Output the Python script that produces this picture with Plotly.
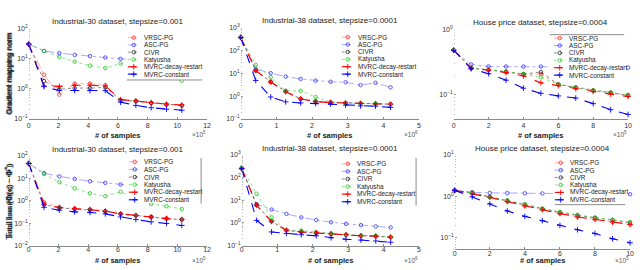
import math
import plotly.graph_objects as go

W, H = 640, 270
SANS = 'Liberation Sans, Arial, sans-serif'
SERIF = 'Liberation Serif, Times New Roman, serif'

# ---------------- data ----------------
series_names = ['VRSC-PG', 'ASC-PG', 'CIVR', 'Katyusha', 'MVRC-decay-restart', 'MVRC-constant']

x_ind30 = [0, 1.03, 2.06, 3.09, 4.12, 5.15, 6.18, 7.21, 8.24, 9.27, 10.3]     # x 1e5
x_ind38 = [0, 0.42, 0.84, 1.26, 1.68, 2.1, 2.52, 2.94, 3.36, 3.78, 4.2]       # x 1e6
x_house = [0, 1, 2, 3, 4, 5, 6, 7, 8, 9, 10]                                  # x 1e5

# gradient mapping norm, Industrial-30
gm30_vrsc = [30, 2.9, 0.64, 1.48, 1.48, 1.3, 0.42, 0.39, 0.34, 0.30, 0.28]
gm30_asc = [30, 17.8, 15, 13.2, 12, 10.8, 9.8, 9.0, 8.3, 7.7, 7.1]
gm30_civr = [30, 1.8, 0.97, 1.05, 1.05, 1.1, 0.42, 0.39, 0.34, 0.30, 0.28]
gm30_katy = [30, 17.8, 11.4, 7.9, 5.85, 4.8, 6.9, 5.0, 3.6, 2.6, 1.84]
gm30_mdr = [30, 1.25, 1.2, 1.3, 1.3, 1.25, 0.44, 0.40, 0.35, 0.31, 0.29]
gm30_mc = [30, 1.17, 0.87, 0.87, 0.87, 0.87, 0.36, 0.28, 0.235, 0.21, 0.195]

# gradient mapping norm, Industrial-38
gm38_vrsc = [363, 13, 4.2, 1.6, 0.75, 0.58, 0.53, 0.50, 0.48, 0.46, 0.44]
gm38_asc = [363, 15, 10, 7.1, 5.6, 4.7, 4.2, 4.0, 3.0, 3.8, 2.4]
gm38_civr = [363, 13, 4.2, 1.6, 0.75, 0.58, 0.53, 0.50, 0.48, 0.46, 0.44]
gm38_katy = [363, 23, 6.6, 1.7, 1.7, 0.91, 0.54, 0.50, 0.48, 0.46, 0.44]
gm38_mdr = [363, 13, 4.1, 1.55, 0.75, 0.57, 0.52, 0.50, 0.48, 0.46, 0.44]
gm38_mc = [363, 4.8, 0.91, 0.56, 0.50, 0.47, 0.45, 0.40, 0.37, 0.36, 0.32]

# gradient mapping norm, House price
gmh_vrsc = [0.48, 0.255, 0.24, 0.225, 0.207, 0.207, 0.144, 0.13, 0.117, 0.108, 0.098]
gmh_asc = [0.48, 0.29, 0.27, 0.27, 0.27, 0.27, 0.27, 0.265, 0.265, 0.265, 0.26]
gmh_civr = [0.48, 0.255, 0.24, 0.222, 0.207, 0.222, 0.144, 0.128, 0.115, 0.107, 0.097]
gmh_katy = [0.48, 0.255, 0.24, 0.227, 0.207, 0.185, 0.144, 0.13, 0.117, 0.108, 0.10]
gmh_mdr = [0.48, 0.255, 0.237, 0.218, 0.194, 0.152, 0.138, 0.123, 0.112, 0.102, 0.094]
gmh_mc = [0.48, 0.249, 0.21, 0.167, 0.126, 0.105, 0.096, 0.089, 0.073, 0.059, 0.050]

# total loss, Industrial-30
tl30_vrsc = [46, 0.85, 0.51, 0.45, 0.40, 0.34, 0.26, 0.22, 0.19, 0.16, 0.145]
tl30_asc = [46, 17, 12.2, 9.4, 7.4, 6.3, 5.3, 4.5, 4.0, 3.5, 3.0]
tl30_civr = [46, 0.67, 0.48, 0.43, 0.40, 0.34, 0.26, 0.22, 0.19, 0.16, 0.145]
tl30_katy = [46, 15.5, 6.7, 3.6, 2.15, 1.6, 2.5, 1.3, 0.72, 0.57, 0.43]
tl30_mdr = [46, 0.70, 0.50, 0.44, 0.41, 0.35, 0.26, 0.22, 0.19, 0.16, 0.145]
tl30_mc = [46, 0.51, 0.38, 0.32, 0.30, 0.26, 0.19, 0.145, 0.114, 0.097, 0.079]

# total loss, Industrial-38
tl38_vrsc = [250, 6.1, 1.18, 0.47, 0.40, 0.36, 0.33, 0.30, 0.27, 0.26, 0.235]
tl38_asc = [270, 6.7, 3.9, 2.5, 1.75, 1.34, 1.07, 0.91, 0.80, 0.70, 0.63]
tl38_civr = [250, 6.1, 1.18, 0.47, 0.40, 0.36, 0.33, 0.30, 0.27, 0.26, 0.235]
tl38_katy = [270, 19.3, 1.75, 0.49, 0.46, 0.40, 0.34, 0.30, 0.28, 0.27, 0.24]
tl38_mdr = [250, 6.0, 1.15, 0.47, 0.40, 0.36, 0.33, 0.30, 0.27, 0.26, 0.235]
tl38_mc = [250, 1.3, 0.40, 0.34, 0.30, 0.27, 0.22, 0.19, 0.175, 0.16, 0.14]

# total loss, House price
tlh_vrsc = [1.4, 1.17, 0.95, 0.75, 0.59, 0.48, 0.385, 0.32, 0.28, 0.24, 0.21]
tlh_asc = [1.4, 1.26, 1.22, 1.20, 1.19, 1.18, 1.17, 1.16, 1.15, 1.14, 1.13]
tlh_civr = [1.4, 1.22, 0.98, 0.79, 0.64, 0.50, 0.41, 0.35, 0.305, 0.27, 0.233]
tlh_katy = [1.4, 1.22, 0.98, 0.80, 0.65, 0.51, 0.42, 0.36, 0.31, 0.275, 0.24]
tlh_mdr = [1.4, 1.17, 0.95, 0.75, 0.59, 0.48, 0.385, 0.32, 0.28, 0.24, 0.21]
tlh_mc = [1.4, 0.98, 0.66, 0.445, 0.33, 0.26, 0.20, 0.157, 0.127, 0.095, 0.076]

titles = ['Industrial-30 dataset, stepsize=0.001', 'Industrial-38 dataset, stepsize=0.0001',
          'House price dataset, stepsize=0.0004'] * 2

# ---------------- styles ----------------
styles = {
    'VRSC-PG': dict(line='rgba(255,90,90,0.7)', mk='rgba(255,40,40,1)', w=0.7, dash='dashdot', sym='circle-open', ms=3.5, mw=0.8),
    'ASC-PG': dict(line='rgba(80,80,255,0.7)', mk='rgba(50,50,255,1)', w=0.7, dash='dashdot', sym='circle-open', ms=3.5, mw=0.8),
    'CIVR': dict(line='rgba(40,40,40,0.75)', mk='rgba(30,30,30,1)', w=0.7, dash='dot', sym='circle-open', ms=3.5, mw=0.8),
    'Katyusha': dict(line='rgba(40,210,40,0.8)', mk='rgba(30,200,30,1)', w=0.7, dash='dot', sym='circle-open', ms=3.5, mw=0.8),
    'MVRC-decay-restart': dict(line='#ff0000', mk='#ff0000', w=1.1, dash='dash', sym='cross-thin-open', ms=4, mw=0.9),
    'MVRC-constant': dict(line='#0000ff', mk='#0000ff', w=1.1, dash='dash', sym='cross-thin-open', ms=4, mw=0.9),
}

GM = 'Gradient mapping norm'
TL = 'Total loss (Φ(x) − Φ<sup>*</sup>)'
panels = [
    dict(x=x_ind30, ys=[gm30_vrsc, gm30_asc, gm30_civr, gm30_katy, gm30_mdr, gm30_mc],
         px=(27, 207, 25, 118), yr=(-1, 2), xr=(0, 12), dtick=2, expo='5', ytitle=GM, serif=False,
         leg=dict(gx=127, tx=141, y0=34.5, dy=7.5, box=(125, 29, 204, 78), lines=[((126, 78), (202, 78))])),
    dict(x=x_ind38, ys=[gm38_vrsc, gm38_asc, gm38_civr, gm38_katy, gm38_mdr, gm38_mc],
         px=(241, 421, 24, 118), yr=(-1, 3), xr=(0, 5), dtick=1, expo='6', ytitle=GM, serif=False,
         leg=dict(gx=343, tx=357, y0=34, dy=7.6, box=(340, 29, 420, 77), lines=[])),
    dict(x=x_house, ys=[gmh_vrsc, gmh_asc, gmh_civr, gmh_katy, gmh_mdr, gmh_mc],
         px=(456, 632, 26, 118), yr=(-1.37, 0), xr=(0, 10), dtick=2, expo='5', ytitle=GM, serif=False,
         leg=dict(gx=557, tx=570, y0=35, dy=7.6, box=(553, 31, 630, 78), lines=[((553, 31.5), (628, 31.5))])),
    dict(x=x_ind30, ys=[tl30_vrsc, tl30_asc, tl30_civr, tl30_katy, tl30_mdr, tl30_mc],
         px=(27, 207, 156, 248), yr=(-2, 2), xr=(0, 12), dtick=2, expo='5', ytitle=TL, serif=True,
         leg=dict(gx=128, tx=141, y0=162, dy=7.8, box=(126, 157, 201, 204), lines=[((201, 158), (201, 205))])),
    dict(x=x_ind38, ys=[tl38_vrsc, tl38_asc, tl38_civr, tl38_katy, tl38_mdr, tl38_mc],
         px=(242, 421, 155, 248), yr=(-1, 3), xr=(0, 5), dtick=1, expo='6', ytitle=TL, serif=True,
         leg=dict(gx=343, tx=356, y0=164, dy=7.8, box=(340, 158, 418, 207), lines=[((418, 158), (418, 207))])),
    dict(x=x_house, ys=[tlh_vrsc, tlh_asc, tlh_civr, tlh_katy, tlh_mdr, tlh_mc],
         px=(457, 634, 155, 252), yr=(-1.28, 1), xr=(0, 10), dtick=2, expo='5', ytitle=TL, serif=True,
         leg=dict(gx=558, tx=571, y0=163, dy=7.6, box=(556, 158, 630, 206), lines=[((558, 206), (629, 206))])),
]


def fx(p):
    return p / W


def fy(p):
    return 1 - p / H


def sup_text(v):
    p = int(round(math.log10(v)))
    return '10<sup>%s</sup>' % (str(p) if p >= 0 else '−%d' % (-p))


fig = go.Figure()
layout = dict(width=W, height=H, margin=dict(l=0, r=0, t=0, b=0), paper_bgcolor='white',
              plot_bgcolor='rgba(0,0,0,0)', showlegend=False)
ann = []

for i, p in enumerate(panels, start=1):
    sfx = '' if i == 1 else str(i)
    xa, ya = 'x' + sfx, 'y' + sfx
    x0, x1, yt, yb = p['px']
    top = i <= 3
    for name, yv in zip(series_names, p['ys']):
        st = styles[name]
        fig.add_trace(go.Scatter(
            x=p['x'], y=yv, xaxis=xa, yaxis=ya, mode='lines+markers', name=name,
            line=dict(color=st['line'], width=st['w'], dash=st['dash']),
            marker=dict(symbol=st['sym'], size=st['ms'], color=st['mk'],
                        line=dict(width=st['mw'], color=st['mk'])),
            showlegend=False, cliponaxis=False))
    lo, hi = p['yr']
    majors = [10.0 ** k for k in range(math.ceil(lo), math.floor(hi) + 1)]
    minors = [m * 10.0 ** k for k in range(math.floor(lo) - 1, math.ceil(hi) + 1)
              for m in range(2, 10) if lo <= math.log10(m * 10.0 ** k) <= hi]
    layout['xaxis' + sfx] = dict(
        domain=[fx(x0), fx(x1)], range=list(p['xr']), anchor=ya, tickmode='linear', tick0=0,
        dtick=p['dtick'], showline=True, linecolor='#8a8a8a', linewidth=1, ticks='inside',
        ticklen=2, tickcolor='#8a8a8a', showgrid=False, zeroline=False, fixedrange=True,
        ticklabelstandoff=(0 if top else -3),
        tickfont=dict(family=SANS, size=7, color='#333'))
    layout['yaxis' + sfx] = dict(
        domain=[fy(yb), fy(yt)], type='log', range=[lo, hi], anchor=xa, tickmode='array',
        tickvals=majors, ticktext=[sup_text(v) for v in majors], ticks='inside', ticklen=2.5,
        tickcolor='#999', showline=False, showgrid=False, zeroline=False, fixedrange=True,
        minor=dict(tickmode='array', tickvals=minors, ticks='inside', ticklen=1.5,
                   tickcolor='#bbb', showgrid=False),
        tickfont=dict(family=SANS, size=7, color='#333'))

    cx = (x0 + x1) / 2
    ann.append(dict(x=cx, y=yt - 7, text=titles[i - 1], showarrow=False, xanchor='center',
                    yanchor='middle', font=dict(family=SANS, size=8, color='#222')))
    ann.append(dict(x=7, y=(yt + yb) / 2, text=p['ytitle'], showarrow=False, textangle=-90,
                    xanchor='center', yanchor='middle',
                    font=dict(family=SERIF if p['serif'] else SANS, size=8.5 if p['serif'] else 7.8,
                              color='#222')))
    ann.append(dict(x=cx, y=(135 if top else 263), text='<b># of samples</b>', showarrow=False,
                    xanchor='center', yanchor='middle', font=dict(family=SANS, size=7.5, color='#222')))
    ann.append(dict(x=x1 + 1, y=(133 if top else 263), text='×10<sup>%s</sup>' % p['expo'],
                    showarrow=False, xanchor='right', yanchor='middle',
                    font=dict(family=SANS, size=6.5, color='#555')))

# ---------- compact legends drawn on a pixel overlay ----------
layout['xaxis7'] = dict(domain=[0, 1], range=[0, W], visible=False, anchor='y7', fixedrange=True)
layout['yaxis7'] = dict(domain=[0, 1], range=[H, 0], visible=False, anchor='x7', fixedrange=True)

for p in panels:
    L = p['leg']
    bx0, by0, bx1, by1 = L['box']
    fig.add_trace(go.Scatter(x=[bx0, bx1, bx1, bx0, bx0], y=[by0, by0, by1, by1, by0],
                             xaxis='x7', yaxis='y7', mode='lines', fill='toself',
                             fillcolor='white', line=dict(width=0, color='white'),
                             showlegend=False, hoverinfo='skip'))
    for (a, b) in L['lines']:
        fig.add_trace(go.Scatter(x=[a[0], b[0]], y=[a[1], b[1]], xaxis='x7', yaxis='y7',
                                 mode='lines', line=dict(color='#8c8c8c', width=1),
                                 showlegend=False, hoverinfo='skip'))
    for j, name in enumerate(series_names):
        st = styles[name]
        yy = L['y0'] + j * L['dy']
        fig.add_trace(go.Scatter(x=[L['gx'], L['gx'] + 12], y=[yy, yy], xaxis='x7', yaxis='y7',
                                 mode='lines', line=dict(color=st['line'], width=st['w'], dash=st['dash']),
                                 showlegend=False, hoverinfo='skip'))
        fig.add_trace(go.Scatter(x=[L['gx'] + 6], y=[yy], xaxis='x7', yaxis='y7', mode='markers',
                                 marker=dict(symbol=st['sym'], size=st['ms'], color=st['mk'],
                                             line=dict(width=st['mw'], color=st['mk'])),
                                 showlegend=False, hoverinfo='skip'))
        ann.append(dict(x=L['tx'], y=yy, text=name, showarrow=False, xanchor='left',
                        yanchor='middle', font=dict(family=SANS, size=6.4, color='#222')))

for a in ann:
    a['xref'] = 'x7'
    a['yref'] = 'y7'
layout['annotations'] = ann
fig.update_layout(**layout)
fig.write_html('out.html', config={'displayModeBar': False},
               post_script="document.body.style.margin='0px';")
